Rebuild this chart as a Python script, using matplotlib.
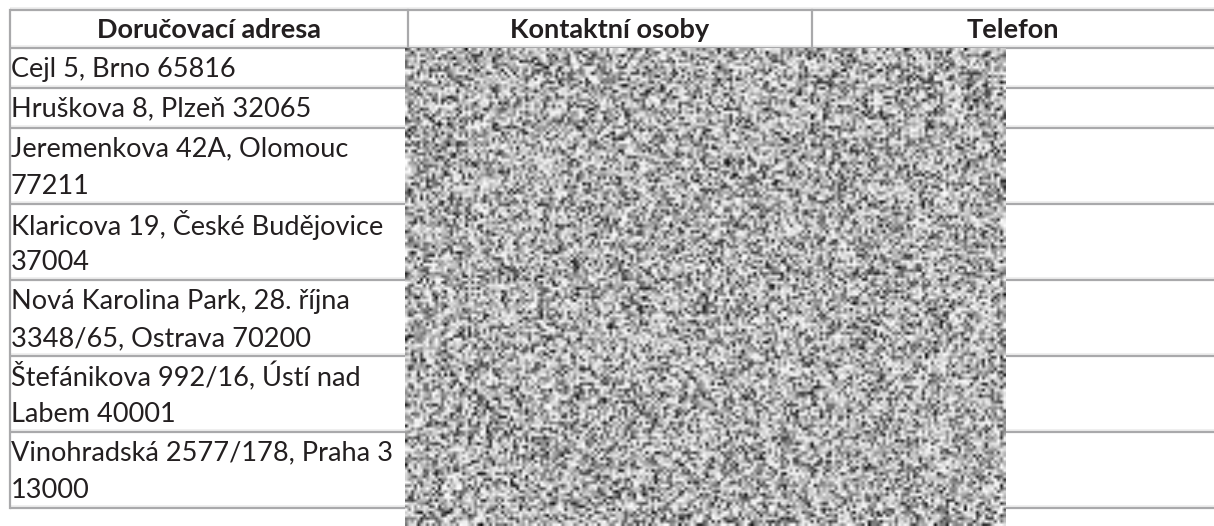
import numpy as np
import matplotlib.pyplot as plt

plt.rcParams["font.family"] = ["Lato", "DejaVu Sans"]

headers = ["Doručovací adresa", "Kontaktní osoby", "Telefon"]
addresses = [
    "Cejl 5, Brno 65816",
    "Hruškova 8, Plzeň 32065",
    "Jeremenkova 42A, Olomouc\n77211",
    "Klaricova 19, České Budějovice\n37004",
    "Nová Karolina Park, 28. října\n3348/65, Ostrava 70200",
    "Štefánikova 992/16, Ústí nad\nLabem 40001",
    "Vinohradská 2577/178, Praha 3\n13000",
]

W, H = 1214, 526
fig = plt.figure(figsize=(W / 100, H / 100), dpi=100)
ax = fig.add_axes([0, 0, 1, 1])
ax.set_xlim(0, W)
ax.set_ylim(H, 0)
ax.axis("off")

line_col = "#a9a9ab"
light_col = "#ececec"
txt_col = "#231f20"

col_x = [10, 408, 812, W]
top = 10
header_h = 38
line_h = 36

# row boundaries from number of text lines
row_edges = [top, top + header_h]
for a in addresses:
    n = a.count("\n") + 1
    row_edges.append(row_edges[-1] + 4 + line_h * n)

# horizontal lines
for y in row_edges:
    ax.plot([col_x[0], W], [y - 2, y - 2], color=light_col, lw=1.2, solid_capstyle="butt")
    ax.plot([col_x[0], W], [y, y], color=line_col, lw=1.6, solid_capstyle="butt")

# vertical lines
ax.plot([col_x[0], col_x[0]], [row_edges[0], row_edges[-1]], color=line_col, lw=1.6)
for x in col_x[1:3]:
    ax.plot([x, x], [row_edges[0], row_edges[-1]], color=line_col, lw=1.6)

# header text
for i, h in enumerate(headers):
    ax.text((col_x[i] + col_x[i + 1]) / 2, (row_edges[0] + row_edges[1]) / 2 + 1, h,
            ha="center", va="center", fontsize=19.5, fontweight="bold", color=txt_col)

# address text
for i, a in enumerate(addresses):
    y0 = row_edges[i + 1]
    for j, part in enumerate(a.split("\n")):
        ax.text(11, y0 + 21 + j * (line_h + 2), part, ha="left", va="center",
                fontsize=19.5, color=txt_col)

# redacted block (noise texture covering the contact column)
rng = np.random.default_rng(3)
noise = rng.random((160, 200)) ** 0.5
ax.imshow(noise, cmap="gray", vmin=0, vmax=1, extent=[405, 1006, H, 48],
          interpolation="bilinear", aspect="auto", zorder=5)

ax.set_xlim(0, W)
ax.set_ylim(H, 0)
fig.savefig("out.png", dpi=100)
